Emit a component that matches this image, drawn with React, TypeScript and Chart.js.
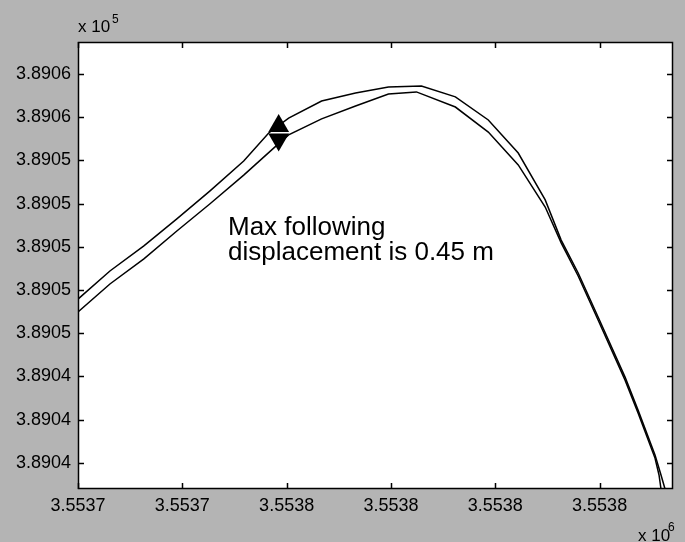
import React, { useEffect, useRef } from 'react';
import { Chart, registerables } from 'chart.js';

Chart.register(...registerables);

// tick values (metres) and the labels MATLAB printed for them (x 10^5 / x 10^6)
const xTickValues = [3553720, 3553740, 3553760, 3553780, 3553800, 3553820];
const xTickLabels = ['3.5537', '3.5537', '3.5538', '3.5538', '3.5538', '3.5538'];
const yTickValues = [389039, 389041, 389043, 389045, 389047, 389049, 389051, 389053, 389055, 389057];
const yTickLabels = ['3.8904', '3.8904', '3.8904', '3.8905', '3.8905', '3.8905', '3.8905', '3.8905', '3.8906', '3.8906'];

// outer path
const upperX = [
  3553720.0, 3553726.12, 3553732.63, 3553738.95, 3553745.26, 3553751.77, 3553756.56, 3553760.38,
  3553766.7, 3553773.21, 3553779.52, 3553785.84, 3553792.35, 3553798.66, 3553804.4, 3553809.57,
  3553812.63, 3553815.89, 3553819.71, 3553824.88, 3553827.37, 3553830.62, 3553831.77, 3553832.54,
];
const upperY = [
  389046.58, 389047.88, 389049.04, 389050.29, 389051.58, 389052.97, 389054.27, 389054.96,
  389055.75, 389056.12, 389056.4, 389056.44, 389055.94, 389054.87, 389053.34, 389051.17,
  389049.31, 389047.79, 389045.75, 389042.97, 389041.44, 389039.36, 389038.44, 389037.79,
];

// inner path
const lowerX = [
  3553720.0, 3553726.12, 3553732.63, 3553738.95, 3553745.26, 3553751.77, 3553757.51, 3553760.38,
  3553766.7, 3553773.21, 3553779.52, 3553784.88, 3553792.35, 3553798.66, 3553804.4, 3553809.57,
  3553812.63, 3553815.89, 3553819.71, 3553824.88, 3553827.37, 3553830.62, 3553831.39, 3553831.77,
];
const lowerY = [
  389045.98, 389047.28, 389048.44, 389049.73, 389050.98, 389052.32, 389053.57, 389054.18,
  389054.92, 389055.52, 389056.07, 389056.17, 389055.47, 389054.31, 389052.79, 389050.84,
  389049.18, 389047.65, 389045.61, 389042.83, 389041.31, 389039.22, 389038.44, 389037.79,
];

// the double arrow marking the max displacement
const markerX = [3553758.47, 3553758.47];
const markerY = [389054.59, 389053.97];

const X_MIN = 3553720;
const X_MAX = 3553834.07;
const Y_MIN = 389037.79;
const Y_MAX = 389058.48;

const FONT = '"Liberation Sans", Arial, Helvetica, sans-serif';

const toPoints = (xs: number[], ys: number[]) => xs.map((x, i) => ({ x, y: ys[i] }));

const framePlugin = {
  id: 'matlabFrame',
  beforeDraw(chart: any) {
    const { ctx, width, height, chartArea: a } = chart;
    ctx.save();
    ctx.fillStyle = '#b4b4b4';
    ctx.fillRect(0, 0, width, height);
    ctx.fillStyle = '#ffffff';
    ctx.fillRect(a.left, a.top, a.right - a.left, a.bottom - a.top);
    ctx.restore();
  },
  afterDraw(chart: any) {
    const { ctx, chartArea: a } = chart;
    const xs = chart.scales.x;
    const ys = chart.scales.y;
    const len = 6;
    ctx.save();
    ctx.strokeStyle = '#000';
    ctx.lineWidth = 1.5;
    ctx.beginPath();
    xs.ticks.forEach((t: any) => {
      const px = Math.round(xs.getPixelForValue(t.value)) + 0.5;
      ctx.moveTo(px, a.bottom);
      ctx.lineTo(px, a.bottom - len);
      ctx.moveTo(px, a.top);
      ctx.lineTo(px, a.top + len);
    });
    ys.ticks.forEach((t: any) => {
      const py = Math.round(ys.getPixelForValue(t.value)) + 0.5;
      ctx.moveTo(a.left, py);
      ctx.lineTo(a.left + len, py);
      ctx.moveTo(a.right, py);
      ctx.lineTo(a.right - len, py);
    });
    ctx.stroke();
    ctx.strokeRect(a.left + 0.5, a.top + 0.5, a.right - a.left - 1, a.bottom - a.top - 1);

    // exponent labels
    ctx.fillStyle = '#000';
    ctx.textAlign = 'left';
    ctx.textBaseline = 'alphabetic';
    ctx.font = `17px ${FONT}`;
    ctx.fillText('x 10', a.left, 32);
    ctx.fillText('x 10', 638, 541);
    ctx.font = `12px ${FONT}`;
    ctx.fillText('5', a.left + 34, 23);
    ctx.fillText('6', 668, 531);

    // annotation
    ctx.font = `26px ${FONT}`;
    ctx.fillText('Max following', a.left + 150, 235);
    ctx.fillText('displacement is 0.45 m', a.left + 150, 260);
    ctx.restore();
  },
};

const App: React.FC = () => {
  const canvasRef = useRef<HTMLCanvasElement>(null);
  const chartRef = useRef<Chart | null>(null);

  useEffect(() => {
    if (chartRef.current) chartRef.current.destroy();
    const ctx = canvasRef.current?.getContext('2d');
    if (!ctx) return;

    const lineStyle = {
      showLine: true,
      borderColor: '#000',
      borderWidth: 1.5,
      pointRadius: 0,
      tension: 0,
      order: 1,
    };

    chartRef.current = new Chart(ctx, {
      type: 'scatter',
      data: {
        datasets: [
          {
            label: 'marker',
            data: toPoints(markerX, markerY),
            pointStyle: 'triangle',
            pointRadius: 12,
            pointRotation: [0, 180],
            pointBackgroundColor: '#000',
            pointBorderWidth: 0,
            showLine: false,
            order: 0,
          },
          { label: 'outer', data: toPoints(upperX, upperY), ...lineStyle },
          { label: 'inner', data: toPoints(lowerX, lowerY), ...lineStyle },
        ] as any,
      },
      options: {
        animation: false,
        responsive: false,
        events: [],
        layout: { padding: { top: 42, right: 11, left: 0, bottom: 0 } },
        plugins: {
          legend: { display: false },
          tooltip: { enabled: false },
        },
        scales: {
          x: {
            type: 'linear',
            min: X_MIN,
            max: X_MAX,
            afterBuildTicks: (s: any) => {
              s.ticks = xTickValues.map((value) => ({ value }));
            },
            afterFit: (s: any) => {
              s.height = 53;
            },
            ticks: {
              callback: (_v: any, i: number) => xTickLabels[i],
              autoSkip: false,
              maxRotation: 0,
              padding: 6,
              color: '#000',
              font: { size: 18, family: FONT },
            },
            grid: { display: false, drawTicks: false },
            border: { display: false },
          },
          y: {
            type: 'linear',
            min: Y_MIN,
            max: Y_MAX,
            afterBuildTicks: (s: any) => {
              s.ticks = yTickValues.map((value) => ({ value }));
            },
            afterFit: (s: any) => {
              s.width = 78;
            },
            ticks: {
              callback: (_v: any, i: number) => yTickLabels[i],
              autoSkip: false,
              padding: 7,
              color: '#000',
              font: { size: 18, family: FONT },
            },
            grid: { display: false, drawTicks: false },
            border: { display: false },
          },
        },
      },
      plugins: [framePlugin],
    });

    return () => {
      if (chartRef.current) {
        chartRef.current.destroy();
        chartRef.current = null;
      }
    };
  }, []);

  return (
    <div style={{ position: 'fixed', left: 0, top: 0, width: 685, height: 542 }}>
      <canvas ref={canvasRef} width={685} height={542} style={{ display: 'block' }} />
    </div>
  );
};

export default App;
